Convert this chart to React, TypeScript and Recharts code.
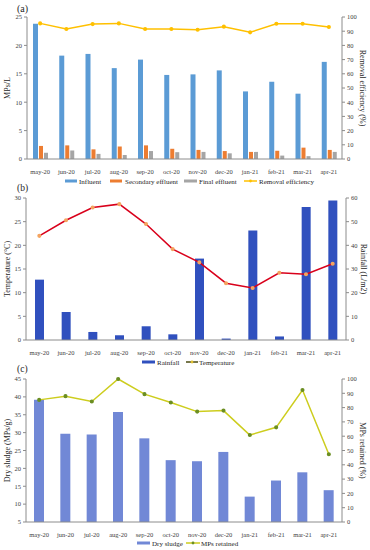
import React from 'react';
import { ComposedChart, Bar, Line, XAxis, YAxis } from 'recharts';

const months = ['may-20', 'jun-20', 'jul-20', 'aug-20', 'sep-20', 'oct-20', 'nov-20', 'dec-20', 'jan-21', 'feb-21', 'mar-21', 'apr-21'];
const influent = [23.8, 18.2, 18.5, 16.0, 17.5, 14.8, 14.9, 15.6, 11.9, 13.6, 11.5, 17.1];
const secondary = [2.3, 2.4, 1.7, 2.2, 2.4, 1.8, 1.6, 1.4, 1.25, 1.45, 2.0, 1.6];
const finalEff = [1.1, 1.5, 0.9, 0.7, 1.4, 1.2, 1.25, 1.0, 1.25, 0.6, 0.5, 1.25];
const removal = [95.5, 91.5, 95, 95.5, 91.5, 91.5, 91, 93.2, 89.2, 95.2, 95.2, 93];

const temperature = [22.0, 25.3, 28.0, 28.7, 24.5, 19.2, 16.4, 12.0, 11.0, 14.2, 13.9, 16.1];
const rainfall = [25.5, 11.8, 3.4, 2.0, 5.8, 2.4, 34.4, 0.6, 46.3, 1.5, 56.2, 58.9];

const drySludge = [39.2, 29.7, 29.5, 35.8, 28.4, 22.3, 22.0, 24.6, 12.1, 16.6, 18.9, 13.9];
const retained = [85.4, 88, 84.3, 100, 89.4, 83.6, 77.2, 77.9, 60.8, 66.2, 92.3, 47.4];

const ticksA = [0, 5, 10, 15, 20, 25];
const ticksPct = [0, 10, 20, 30, 40, 50, 60, 70, 80, 90, 100];
const ticksTemp = [0, 5, 10, 15, 20, 25, 30];
const ticksRain = [0, 10, 20, 30, 40, 50, 60];
const ticksSludge = [5, 10, 15, 20, 25, 30, 35, 40, 45];

const dataA = months.map((m, i) => ({ m, influent: influent[i], secondary: secondary[i], finalEff: finalEff[i], removal: removal[i] }));
const dataB = months.map((m, i) => ({ m, temperature: temperature[i], rainfall: rainfall[i] }));
const dataC = months.map((m, i) => ({ m, drySludge: drySludge[i], retained: retained[i] }));

const FONT = '"Liberation Serif", "Times New Roman", serif';
const tickStyle = { fontSize: 6.5, fill: '#404040', fontFamily: FONT };
const axisStroke = '#8c8c8c';
const labelStyle = { fontSize: 8, fill: '#262626', fontFamily: FONT };

const xAxisProps = {
  dataKey: 'm',
  tick: tickStyle,
  tickLine: false,
  stroke: axisStroke,
  interval: 0 as const,
  height: 14,
  tickMargin: 4,
};

export default function App() {
  return (
    <div style={{ position: 'absolute', left: 0, top: 0, width: 370, height: 550, background: '#fff', fontFamily: FONT }}>
      {/* Panel (a) */}
      <div style={{ position: 'absolute', left: 0, top: 0 }}>
        <ComposedChart width={370} height={190} data={dataA} margin={{ top: 17, right: 0, left: 0, bottom: 17 }} barGap={1} barCategoryGap="22%">
          <XAxis {...xAxisProps} />
          <YAxis yAxisId="l" domain={[0, 25]} ticks={ticksA} width={27} tick={tickStyle} stroke={axisStroke} tickSize={3} tickMargin={2}
            label={{ value: 'MPs/L', angle: -90, position: 'center', dx: -6, style: labelStyle }} />
          <YAxis yAxisId="r" orientation="right" domain={[0, 100]} ticks={ticksPct} width={28} tick={tickStyle} stroke={axisStroke} tickSize={3} tickMargin={2}
            label={{ value: 'Removal efficiency (%)', angle: 90, position: 'center', dx: 7, style: labelStyle }} />
          <Bar yAxisId="l" dataKey="influent" fill="#5B9BD5" barSize={5} isAnimationActive={false} />
          <Bar yAxisId="l" dataKey="secondary" fill="#ED7D31" barSize={4} isAnimationActive={false} />
          <Bar yAxisId="l" dataKey="finalEff" fill="#A5A5A5" barSize={4} isAnimationActive={false} />
          <Line yAxisId="r" dataKey="removal" stroke="#FFC000" strokeWidth={1.5} dot={{ r: 1.3, fill: '#FFC000', stroke: '#FFC000' }} isAnimationActive={false} />
        </ComposedChart>
      </div>

      {/* Panel (b) */}
      <div style={{ position: 'absolute', left: 0, top: 183 }}>
        <ComposedChart width={370} height={180} data={dataB} margin={{ top: 15, right: 0, left: 0, bottom: 9 }} barCategoryGap="32%">
          <XAxis {...xAxisProps} />
          <YAxis yAxisId="l" domain={[0, 30]} ticks={ticksTemp} width={26} tick={tickStyle} stroke={axisStroke} tickSize={3} tickMargin={2}
            label={{ value: 'Temperature (\u00B0C)', angle: -90, position: 'center', dx: -6, style: labelStyle }} />
          <YAxis yAxisId="r" orientation="right" domain={[0, 60]} ticks={ticksRain} width={24} tick={tickStyle} stroke={axisStroke} tickSize={3} tickMargin={2}
            label={{ value: 'Rainfall (L/m2)', angle: 90, position: 'center', dx: 6, style: labelStyle }} />
          <Bar yAxisId="r" dataKey="rainfall" fill="#3050BE" barSize={9} isAnimationActive={false} />
          <Line yAxisId="l" dataKey="temperature" stroke="#D9001B" strokeWidth={1.5} dot={{ r: 1.3, fill: '#F4A460', stroke: '#F4A460' }} isAnimationActive={false} />
        </ComposedChart>
      </div>

      {/* Panel (c) */}
      <div style={{ position: 'absolute', left: 0, top: 365 }}>
        <ComposedChart width={370} height={185} data={dataC} margin={{ top: 14, right: 0, left: 0, bottom: 14 }}>
          <XAxis {...xAxisProps} />
          <YAxis yAxisId="l" domain={[5, 45]} ticks={ticksSludge} width={26} tick={tickStyle} stroke={axisStroke} tickSize={3} tickMargin={2}
            label={{ value: 'Dry sludge (MPs/g)', angle: -90, position: 'center', dx: -6, style: labelStyle }} />
          <YAxis yAxisId="r" orientation="right" domain={[0, 100]} ticks={ticksPct} width={28} tick={tickStyle} stroke={axisStroke} tickSize={3} tickMargin={2}
            label={{ value: 'MPs retained (%)', angle: 90, position: 'center', dx: 7, style: labelStyle }} />
          <Bar yAxisId="l" dataKey="drySludge" fill="#7188D6" barSize={10} isAnimationActive={false} />
          <Line yAxisId="r" dataKey="retained" stroke="#CDCD1E" strokeWidth={1.5} dot={{ r: 1.3, fill: '#6B8E23', stroke: '#6B8E23' }} isAnimationActive={false} />
        </ComposedChart>
      </div>

      {/* Titles and legends */}
      <svg width={370} height={550} style={{ position: 'absolute', left: 0, top: 0, pointerEvents: 'none' }} fontFamily={FONT}>
        <text x={17} y={12} fontSize={10} fill="#262626">(a)</text>
        <text x={17} y={191} fontSize={9.5} fill="#262626">(b)</text>
        <text x={17} y={372} fontSize={9.5} fill="#262626">(c)</text>

        <g fontSize={7} fill="#262626">
          <line x1={65} x2={77} y1={181} y2={181} stroke="#5B9BD5" strokeWidth={3} />
          <text x={79} y={183.5}>Influent</text>
          <line x1={110} x2={122} y1={181} y2={181} stroke="#ED7D31" strokeWidth={3} />
          <text x={125} y={183.5}>Secondary effluent</text>
          <line x1={184} x2={197} y1={181} y2={181} stroke="#A5A5A5" strokeWidth={3} />
          <text x={199} y={183.5}>Final effluent</text>
          <line x1={244} x2={257} y1={181} y2={181} stroke="#FFC000" strokeWidth={1.5} />
          <circle cx={250.5} cy={181} r={1.4} fill="#FFC000" />
          <text x={259} y={183.5}>Removal efficiency</text>

          <line x1={142} x2={155} y1={362} y2={362} stroke="#3050BE" strokeWidth={3} />
          <text x={157} y={364.5}>Rainfall</text>
          <line x1={186} x2={198} y1={362} y2={362} stroke="#4a4a10" strokeWidth={1.5} />
          <circle cx={192} cy={362} r={1.4} fill="#E0C030" />
          <text x={199} y={364.5}>Temperature</text>

          <line x1={137} x2={150} y1={543} y2={543} stroke="#7188D6" strokeWidth={3} />
          <text x={152} y={545.5}>Dry sludge</text>
          <line x1={186} x2={200} y1={543} y2={543} stroke="#CDCD1E" strokeWidth={1.5} />
          <circle cx={193} cy={543} r={1.4} fill="#6B8E23" />
          <text x={201} y={545.5}>MPs retained</text>
        </g>
      </svg>
    </div>
  );
}
